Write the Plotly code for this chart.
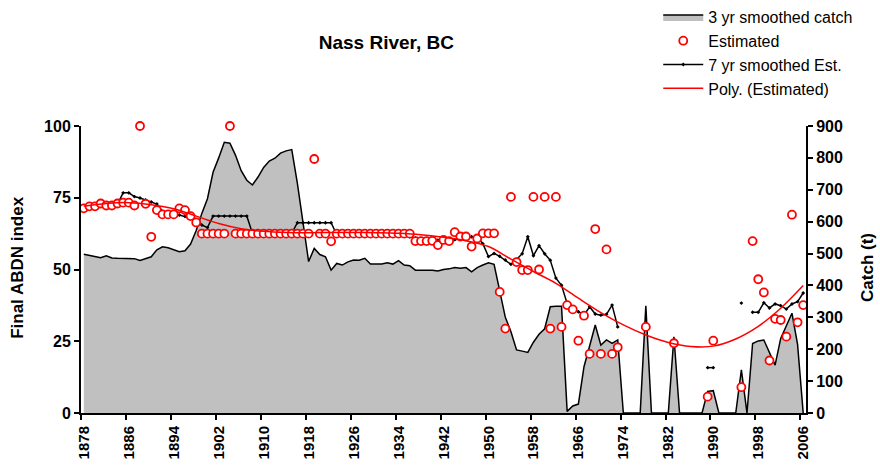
import plotly.graph_objects as go

# ---- data -------------------------------------------------------------
years = list(range(1878, 2007))

# 3 yr smoothed catch (t), right axis
catch_t = [
    498, 495, 490, 487, 493, 486, 485, 485, 485, 484,   # 1878-1887
    478, 485, 490, 512, 521, 518, 511, 506, 509, 530,   # 1888-1897
    572, 626, 672, 755, 800, 849, 846, 808, 760, 730,   # 1898-1907
    715, 740, 770, 790, 799, 815, 822, 826, 720, 590,   # 1908-1917
    475, 516, 497, 490, 448, 469, 464, 474, 480, 479,   # 1918-1927
    485, 467, 467, 467, 471, 467, 478, 464, 462, 448,   # 1928-1937
    448, 448, 448, 445, 450, 452, 456, 454, 456, 443,   # 1938-1947
    456, 464, 471, 466, 385, 300, 255, 198, 194, 190,   # 1948-1957
    222, 247, 264, 333, 335, 335, 5, 22, 28, 145,       # 1958-1967
    210, 276, 213, 229, 218, 229, 0, 0, 0, 0,           # 1968-1977
    336, 0, 0, 0, 0, 239, 0, 0, 0, 0,                   # 1978-1987
    0, 68, 70, 0, 0, 0, 0, 135, 0, 218,                 # 1988-1997
    226, 229, 187, 150, 234, 271, 313, 215, 0,          # 1998-2006
]

# Estimated abundance index, left axis
estimated = [
    71.3, 72.0, 72.0, 73.0, 72.3, 72.3, 73.0, 73.3, 73.3, 72.3,   # 1878-1887
    100.0, 72.9, 61.4, 70.7, 69.2, 69.2, 69.2, 71.3, 70.7, 68.6,  # 1888-1897
    66.4, 62.5, 62.5, 62.5, 62.5, 62.5, 100.0, 62.5, 62.5, 62.5,  # 1898-1907
    62.5, 62.5, 62.5, 62.5, 62.5, 62.5, 62.5, 62.5, 62.5, 62.5,   # 1908-1917
    62.5, 88.5, 62.5, 62.5, 59.8, 62.5, 62.5, 62.5, 62.5, 62.5,   # 1918-1927
    62.5, 62.5, 62.5, 62.5, 62.5, 62.5, 62.5, 62.5, 62.5, 59.9,   # 1928-1937
    59.9, 59.9, 60.0, 58.5, 60.3, 59.9, 63.0, 61.5, 61.5, 58.0,   # 1938-1947
    60.8, 62.6, 62.6, 62.6, 42.2, 29.4, 75.3, 52.6, 49.8, 49.8,   # 1948-1957
    75.3, 50.0, 75.3, 29.4, 75.3, 30.0, 37.6, 36.1, 25.2, 33.9,   # 1958-1967
    20.6, 64.1, 20.6, 57.0, 20.6, 22.9, None, None, None, None,   # 1968-1977
    30.0, None, None, None, None, 24.3, None, None, None, None,   # 1978-1987
    None, 5.7, 25.2, None, None, None, None, 9.0, None, 59.9,     # 1988-1997
    46.6, 42.0, 18.3, 32.8, 32.4, 26.6, 69.1, 31.6, 37.6,         # 1998-2006
]

# 7 yr smoothed estimate, left axis
smoothed_7yr = [
    None, None, None, 72.3, 72.6, 72.7, 72.8, 76.7, 76.7, 75.4,   # 1878-1887
    74.9, 74.2, 73.5, 72.8, 70.2, 69.6, 69.2, 69.0, 68.5, 68.0,   # 1888-1897
    67.3, 65.5, 64.6, 68.6, 68.6, 68.6, 68.6, 68.6, 68.6, 68.6,   # 1898-1907
    62.6, 62.6, 62.6, 62.6, 62.6, 62.6, 62.6, 62.6, 66.3, 66.3,   # 1908-1917
    66.3, 66.3, 66.3, 66.3, 66.3, 62.2, 62.2, 62.2, 62.5, 62.5,   # 1918-1927
    62.5, 62.5, 62.5, 62.5, 62.5, 62.5, 62.1, 61.8, 61.4, 61.0,   # 1928-1937
    60.5, 60.1, 59.8, 60.2, 60.4, 60.6, 60.4, 60.7, 61.0, 61.4,   # 1938-1947
    61.4, 59.0, 54.5, 55.6, 54.6, 53.3, 51.8, 53.5, 55.5, 61.4,   # 1948-1957
    54.8, 58.3, 55.5, 53.2, 47.0, 44.5, 38.2, 36.0, 35.3, 34.1,   # 1958-1967
    37.0, 34.5, 34.1, 34.4, 37.6, 30.0, None, None, None, None,   # 1968-1977
    None, None, None, None, None, None, None, None, None, None,   # 1978-1987
    None, 15.8, 15.8, None, None, None, None, 38.3, None, 35.1,   # 1988-1997
    35.1, 38.4, 36.6, 38.0, 37.4, 36.2, 38.0, 38.8, 41.8,         # 1998-2006
]

# Polynomial trend of the estimate, sampled every four years
poly_years = [1878, 1882, 1886, 1890, 1894, 1898, 1902, 1906, 1910, 1914,
              1918, 1922, 1926, 1930, 1934, 1938, 1942, 1946, 1950, 1954,
              1958, 1962, 1966, 1970, 1974, 1978, 1982, 1986, 1990, 1994,
              1998, 2002, 2006]
poly_est = [72.0, 73.0, 73.3, 72.6, 71.2, 68.6, 66.0, 64.2, 63.3, 62.9,
            62.8, 62.9, 62.9, 62.8, 62.6, 62.1, 61.2, 60.0, 58.0, 53.6,
            49.3, 45.2, 40.0, 35.0, 30.7, 27.2, 24.6, 23.2, 23.3, 25.8,
            30.2, 36.5, 44.4]

tick_years = list(range(1878, 2007, 8))

# ---- figure -----------------------------------------------------------
FONT = "Liberation Sans, Arial, sans-serif"
RED = "#FF0000"
AXIS_STYLE = dict(
    showgrid=False, zeroline=False, automargin=False,
    showline=True, linecolor="black", linewidth=2,
    ticks="outside", ticklen=5, tickwidth=1.5, tickcolor="black",
    tickfont=dict(family=FONT, size=16, weight="bold", color="black"),
)

fig = go.Figure()

# catch area sits on the base (right-hand) axis so the index series,
# on the overlaying axis, draw above it
fig.add_trace(go.Scatter(
    x=years, y=catch_t, name="3 yr smoothed catch", yaxis="y",
    mode="lines", fill="tozeroy", fillcolor="#C0C0C0",
    line=dict(color="black", width=1.5), legendgroup="a", legendrank=1,
))
fig.add_trace(go.Scatter(
    x=years, y=smoothed_7yr, name="7 yr smoothed Est.", yaxis="y2",
    mode="lines+markers", connectgaps=False,
    line=dict(color="black", width=1.5),
    marker=dict(color="black", size=3, symbol="diamond"),
    legendgroup="c", legendrank=3,
))
fig.add_trace(go.Scatter(
    x=years, y=estimated, name="Estimated", yaxis="y2", mode="markers",
    marker=dict(symbol="circle", size=8, color="white",
                line=dict(color=RED, width=1.8)),
    cliponaxis=False,
    legendgroup="b", legendrank=2,
))
fig.add_trace(go.Scatter(
    x=poly_years, y=poly_est, name="Poly. (Estimated)", yaxis="y2",
    mode="lines",
    line=dict(color=RED, width=1.5, shape="spline", smoothing=1.0),
    legendgroup="d", legendrank=4,
))

fig.update_layout(
    width=880, height=466,
    margin=dict(l=81, r=74, t=126, b=53, autoexpand=False),
    paper_bgcolor="white", plot_bgcolor="white",
    font=dict(family=FONT, color="black", size=15),
    showlegend=True,
    legend=dict(
        xref="container", yref="container", x=0.748, y=1.005,
        xanchor="left", yanchor="top",
        font=dict(family=FONT, size=16, color="black"),
        traceorder="grouped", tracegroupgap=0,
        bgcolor="rgba(0,0,0,0)", itemwidth=40,
    ),
    title=dict(
        text="Nass River, BC", xref="container", yref="container",
        x=0.439, y=0.91, xanchor="center", yanchor="middle",
        font=dict(family=FONT, size=19, weight="bold", color="black"),
    ),
    xaxis=dict(
        range=[1877.5, 2006.5], showgrid=False, zeroline=False,
        showline=True, linecolor="black", linewidth=2,
        tickmode="array",
        tickvals=[y - 0.5 for y in tick_years],
        ticktext=[str(y) for y in tick_years],
        ticklabelshift=3,
        ticks="outside", ticklen=5, tickwidth=1.5, tickcolor="black",
        tickangle=-90, automargin=False,
        tickfont=dict(family=FONT, size=15, weight="bold", color="black"),
    ),
    yaxis=dict(
        range=[0, 900], tickmode="array",
        tickvals=[0, 100, 200, 300, 400, 500, 600, 700, 800, 900],
        side="right", **AXIS_STYLE,
    ),
    yaxis2=dict(
        range=[0, 100], tickmode="array", tickvals=[0, 25, 50, 75, 100],
        overlaying="y", side="left", **AXIS_STYLE,
    ),
    annotations=[
        dict(text="Final ABDN index", xref="paper", yref="paper",
             x=-0.087, y=0.509, textangle=-90, showarrow=False,
             xanchor="center", yanchor="middle",
             font=dict(family=FONT, size=17, weight="bold", color="black")),
        dict(text="Catch (t)", xref="paper", yref="paper",
             x=1.0855, y=0.509, textangle=-90, showarrow=False,
             xanchor="center", yanchor="middle",
             font=dict(family=FONT, size=17, weight="bold", color="black")),
    ],
)

fig.write_html("out.html")
